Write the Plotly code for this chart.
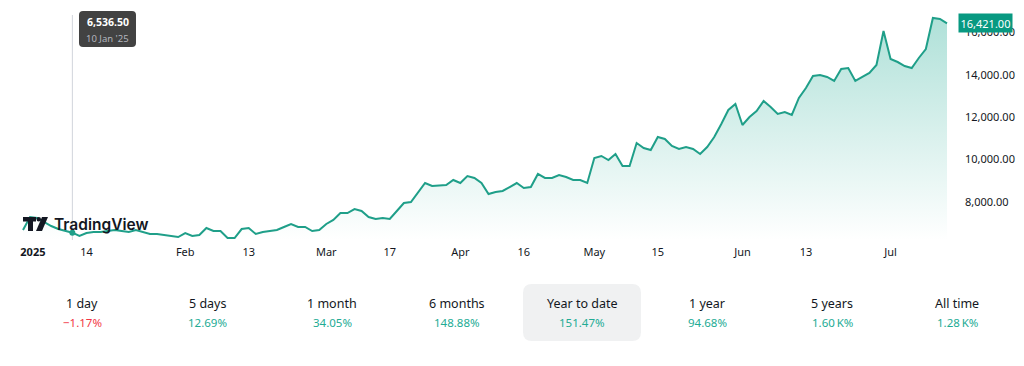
import plotly.graph_objects as go

# ---------------- data ----------------
values = [
    6663, 7277, 7230, 7041, 6852, 6710, 6616, 6536.5, 6380, 6521, 6569, 6569, 6616,
    6663, 6616, 6569, 6663, 6569, 6474, 6474, 6427, 6380, 6332, 6521, 6380, 6427,
    6758, 6616, 6616, 6285, 6285, 6710, 6758, 6474, 6569, 6616, 6663, 6805, 6947,
    6805, 6805, 6616, 6663, 6947, 7136, 7466, 7466, 7655, 7560,
    7277, 7183, 7230, 7183, 7560, 7939, 7986, 8458, 8883, 8742, 8765, 8789, 9025,
    8883, 9214, 9120, 8883, 8364, 8458, 8506, 8694, 8883, 8647, 8694, 9309,
    9120, 9120, 9261, 9167, 9025, 9025, 8883, 10064, 10159, 9970, 10253, 9687,
    9687, 10773, 10537, 10442, 11056, 10962, 10631, 10490, 10584, 10490, 10253, 10584,
    11056, 11670, 12332, 12615, 11623, 12001, 12285, 12757, 12474, 12143, 12238,
    12096, 12899, 13371, 13938, 13985, 13891, 13702, 14269, 14316, 13702, 13891,
    14080, 14458, 16064, 14741, 14599, 14410, 14316, 14788, 15213, 16678, 16631, 16421,
]
x_idx = list(range(len(values)))

tick_pos = [1.4, 9, 23, 32, 43, 52, 62, 71, 81, 90, 102, 111, 123]
tick_text = ["<b>2025</b>", "14", "Feb", "13", "Mar", "17", "Apr", "16", "May",
             "15", "Jun", "13", "Jul"]
y_ticks = [8000, 10000, 12000, 14000, 16000]

hover_index = 7
hover_value = 6536.50
hover_date = "10 Jan '25"
last_value = 16421.00

periods = ["1 day", "5 days", "1 month", "6 months", "Year to date", "1 year",
           "5 years", "All time"]
changes = ["\u22121.17%", "12.69%", "34.05%", "148.88%", "151.47%", "94.68%",
           "1.60\u202fK%", "1.28\u202fK%"]
selected_period = "Year to date"

# ---------------- layout helpers ----------------
W, H = 1024, 366
L, R, T, B = 22, 74, 0, 126
PW, PH = W - L - R, H - T - B
Y_MIN, Y_MAX = 6191, 17528
X_FIRST_PX, X_LAST_PX = 23, 947
step = (X_LAST_PX - X_FIRST_PX) / (len(values) - 1)
x_range = [-(X_FIRST_PX - L) / step, (len(values) - 1) + (L + PW - X_LAST_PX) / step]

FONT = "Noto Sans"
GREEN = "#22ab94"
LINE = "#1f9f89"
RED = "#f23645"
TEXT = "#131722"


def px(xp):
    return (xp - L) / PW


def py(yp):
    return (T + PH - yp) / PH


def rrect(x0, y0, x1, y1, r):
    def p(a, b):
        return f"{px(a):.5f},{py(b):.5f}"
    return (f"M {p(x0 + r, y0)} L {p(x1 - r, y0)} Q {p(x1, y0)} {p(x1, y0 + r)} "
            f"L {p(x1, y1 - r)} Q {p(x1, y1)} {p(x1 - r, y1)} "
            f"L {p(x0 + r, y1)} Q {p(x0, y1)} {p(x0, y1 - r)} "
            f"L {p(x0, y0 + r)} Q {p(x0, y0)} {p(x0 + r, y0)} Z")


def poly(points):
    return "M " + " L ".join(f"{px(a):.5f},{py(b):.5f}" for a, b in points) + " Z"


fig = go.Figure()

fig.add_trace(go.Scatter(
    x=x_idx, y=values, mode="lines",
    line=dict(color=LINE, width=2),
    fill="tozeroy",
    fillgradient=dict(type="vertical", start=Y_MIN, stop=max(values),
                      colorscale=[[0, "rgba(34,171,148,0.0)"],
                                  [1, "rgba(34,171,148,0.36)"]]),
    hoverinfo="skip", showlegend=False,
))

fig.add_trace(go.Scatter(
    x=[hover_index], y=[hover_value], mode="markers",
    marker=dict(color=LINE, size=6),
    hoverinfo="skip", showlegend=False,
))

shapes = []
# crosshair
shapes.append(dict(type="line", xref="x", yref="paper", x0=hover_index, x1=hover_index,
                   y0=0, y1=py(15), line=dict(color="#d1d4dc", width=1), layer="below"))
# tooltip box
shapes.append(dict(type="path", xref="paper", yref="paper", path=rrect(79, 11, 136, 47, 4),
                   fillcolor="rgba(50,50,50,0.92)", line=dict(width=0)))
# selected period background
shapes.append(dict(type="path", xref="paper", yref="paper",
                   path=rrect(523, 284, 641, 341, 9),
                   fillcolor="#f0f1f2", line=dict(width=0), layer="below"))
# TradingView logo glyph
shapes.append(dict(type="path", xref="paper", yref="paper",
                   path=poly([(23, 217), (36, 217), (36, 221.5), (33, 221.5), (33, 231),
                              (28, 231), (28, 221.5), (23, 221.5)]),
                   fillcolor=TEXT, line=dict(width=0)))
shapes.append(dict(type="circle", xref="paper", yref="paper",
                   x0=px(36.5), x1=px(41), y0=py(221.5), y1=py(217),
                   fillcolor=TEXT, line=dict(width=0)))
shapes.append(dict(type="path", xref="paper", yref="paper",
                   path=poly([(42, 217), (48, 217), (42, 231), (36, 231)]),
                   fillcolor=TEXT, line=dict(width=0)))

annotations = []
annotations.append(dict(xref="paper", yref="paper", x=px(52), y=py(224.5),
                        xanchor="left", yanchor="middle", showarrow=False,
                        text="TradingView",
                        font=dict(family="Inter", size=15.5, color=TEXT, weight=600)))
# tooltip texts
annotations.append(dict(xref="paper", yref="paper", x=px(107.5), y=py(22),
                        xanchor="center", yanchor="middle", showarrow=False,
                        text=f"<b>{hover_value:,.2f}</b>",
                        font=dict(family=FONT, size=10.5, color="#ffffff")))
annotations.append(dict(xref="paper", yref="paper", x=px(107.5), y=py(38.5),
                        xanchor="center", yanchor="middle", showarrow=False,
                        text=hover_date,
                        font=dict(family=FONT, size=9.5, color="#b2b5be")))
# last price label
annotations.append(dict(xref="paper", yref="y", x=1, y=last_value, xanchor="left",
                        yanchor="middle", xshift=8, showarrow=False,
                        text=f"{last_value:,.2f}", bgcolor="#089981", borderpad=1.5,
                        font=dict(family=FONT, size=11, color="#ffffff")))
# period stats row
centers = [82, 207, 332, 457, 582, 707, 832, 957]
for cx, per, ch in zip(centers, periods, changes):
    col = RED if ch.startswith("\u2212") else GREEN
    annotations.append(dict(xref="paper", yref="paper", x=px(cx), y=py(303),
                            xanchor="center", yanchor="middle", showarrow=False,
                            text=per, font=dict(family=FONT, size=12.5, color=TEXT)))
    annotations.append(dict(xref="paper", yref="paper", x=px(cx), y=py(322),
                            xanchor="center", yanchor="middle", showarrow=False,
                            text=ch, font=dict(family=FONT, size=11.5, color=col)))

fig.update_layout(
    width=W, height=H,
    margin=dict(l=L, r=R, t=T, b=B, pad=0),
    paper_bgcolor="#ffffff", plot_bgcolor="#ffffff",
    shapes=shapes, annotations=annotations,
    xaxis=dict(range=x_range, showgrid=False, zeroline=False, showline=False,
               tickmode="array", tickvals=tick_pos, ticktext=tick_text,
               ticks="", ticklabelstandoff=4,
               tickfont=dict(family=FONT, size=11, color=TEXT)),
    yaxis=dict(range=[Y_MIN, Y_MAX], side="right", showgrid=False, zeroline=False,
               showline=False, tickmode="array", tickvals=y_ticks,
               ticktext=[f"{v:,.2f}" for v in y_ticks], ticks="",
               ticklabelstandoff=14,
               tickfont=dict(family=FONT, size=11, color=TEXT)),
    hovermode=False,
)

fig.write_html("out.html", config={"displayModeBar": False},
               post_script="document.body.style.margin='0';")
